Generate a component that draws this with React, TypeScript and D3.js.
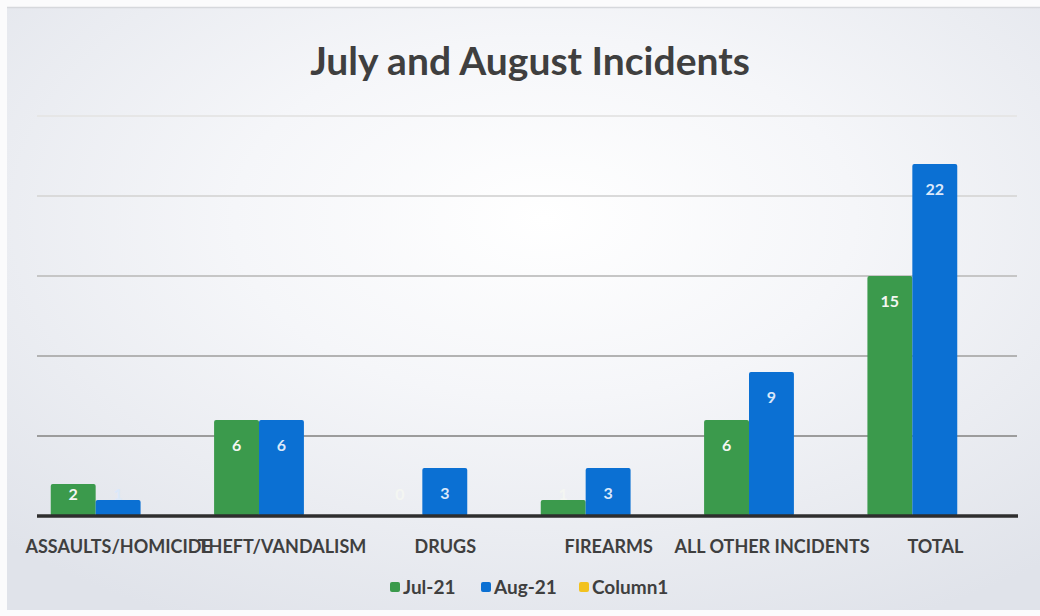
import * as d3 from "d3";

const WIDTH = 1040;
const HEIGHT = 616;

const categories = [
  "ASSAULTS/HOMICIDE",
  "THEFT/VANDALISM",
  "DRUGS",
  "FIREARMS",
  "ALL OTHER INCIDENTS",
  "TOTAL",
];
const jul21 = [2, 6, 0, 1, 6, 15];
const aug21 = [1, 6, 3, 3, 9, 22];
const gridTicks = [5, 10, 15, 20, 25];

const seriesNames = ["Jul-21", "Aug-21", "Column1"];
const seriesColors = ["#3b9a4c", "#0b70d3", "#f2c21f"];
const barSeries = [jul21, aug21];

const FONT = "Lato, 'Open Sans', sans-serif";
const TEXT = "#3f3f3f";

export default function App() {
  const baseline = 516;
  const y = d3.scaleLinear().domain([0, 25]).range([baseline, 116]);

  // labels and gridlines sit on the plot area; the bars are drawn a bit to the left of it
  const xLabels = d3.scaleBand().domain(categories).range([37, 1017]);
  const xBars = d3
    .scaleBand()
    .domain(categories)
    .range([14, 994])
    .paddingInner(0.45)
    .paddingOuter(0.225);
  const xSeries = d3
    .scaleBand()
    .domain(["Jul-21", "Aug-21"])
    .range([0, xBars.bandwidth()]);

  const gridColors = ["#9c9c9c", "#b3b3b3", "#c6c6c6", "#dadada", "#e6e6e6"];

  const legendX = [390, 481, 579];

  return (
    <svg
      width={WIDTH}
      height={HEIGHT}
      style={{ position: "absolute", left: 0, top: 0 }}
      fontFamily={FONT}
    >
      <defs>
        <radialGradient id="bg" cx="0.52" cy="0.35" r="0.75">
          <stop offset="0" stopColor="#ffffff" />
          <stop offset="0.4" stopColor="#f5f6f9" />
          <stop offset="1" stopColor="#e0e3ea" />
        </radialGradient>
      </defs>
      <rect x={0} y={0} width={WIDTH} height={HEIGHT} fill="#fbfbfc" />
      <rect x={7} y={7} width={WIDTH - 7} height={603} fill="url(#bg)" />
      <line x1={7} x2={WIDTH} y1={7.5} y2={7.5} stroke="#d6d8dc" strokeWidth={1.5} />

      <text
        x={530}
        y={75}
        textAnchor="middle"
        fontSize={39}
        fontWeight={700}
        fill={TEXT}
      >
        July and August Incidents
      </text>

      {gridTicks.map((t, i) => (
        <line
          key={t}
          x1={37}
          x2={1017}
          y1={y(t)}
          y2={y(t)}
          stroke={gridColors[i]}
          strokeWidth={2}
        />
      ))}

      {barSeries.map((values, s) =>
        values.map((v, i) => (
          <rect
            key={`${s}-${i}`}
            x={(xBars(categories[i]) ?? 0) + (xSeries(seriesNames[s]) ?? 0)}
            y={y(v)}
            width={xSeries.bandwidth()}
            height={baseline - y(v)}
            fill={seriesColors[s]}
            rx={2}
          />
        ))
      )}

      <line x1={37} x2={1018} y1={baseline} y2={baseline} stroke="#2e2e2e" strokeWidth={3.5} />

      {barSeries.map((values, s) =>
        values.map((v, i) => (
          <text
            key={`l-${s}-${i}`}
            x={(xBars(categories[i]) ?? 0) + (xSeries(seriesNames[s]) ?? 0) + xSeries.bandwidth() / 2}
            y={Math.min(y(v) + 25, 494) + 6}
            textAnchor="middle"
            fontSize={16}
            fontWeight={700}
            fill={s === 0 ? "#f4f6f2" : "#dbe8fa"}
          >
            {v}
          </text>
        ))
      )}

      {categories.map((c) => (
        <text
          key={c}
          x={(xLabels(c) ?? 0) + xLabels.bandwidth() / 2}
          y={553}
          textAnchor="middle"
          fontSize={18}
          fontWeight={700}
          fill={TEXT}
        >
          {c}
        </text>
      ))}

      {seriesNames.map((name, i) => (
        <g key={name} transform={`translate(${legendX[i]},0)`}>
          <rect x={0} y={582} width={10} height={10} rx={2} fill={seriesColors[i]} />
          <text x={13} y={594} fontSize={19} fontWeight={700} fill={TEXT}>
            {name}
          </text>
        </g>
      ))}
    </svg>
  );
}
